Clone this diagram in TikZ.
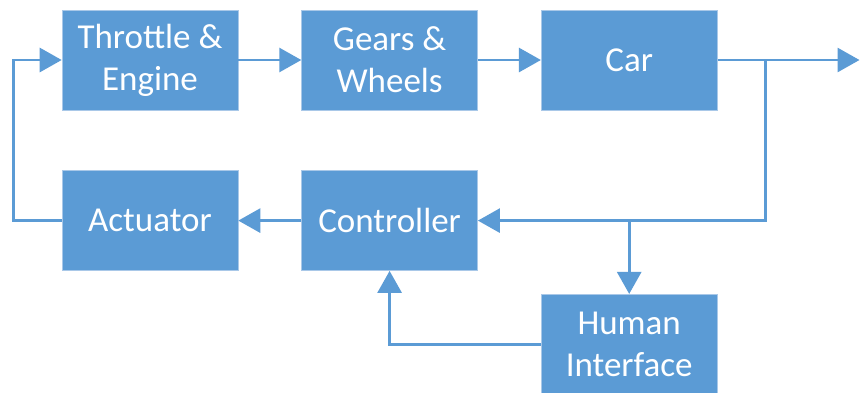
\documentclass[tikz,border=0pt]{standalone}
\usepackage{fontspec}
\setmainfont{Carlito}
\usepackage{tikz}
\usetikzlibrary{positioning,arrows.meta}

\definecolor{boxblue}{HTML}{5B9BD5}
\definecolor{boxedge}{HTML}{A9C8E8}

\tikzset{
	blk/.style={rectangle, fill=boxblue, draw=boxedge, line width=0.6pt, text=white,
		minimum width=176pt, minimum height=100pt, inner sep=0pt, align=center,
		font=\fontsize{35}{42}\selectfont},
	wire/.style={draw=boxblue, line width=2.8pt},
	arr/.style={wire, -{Triangle[length=22pt,width=24pt]}}
}

\begin{document}
\begin{tikzpicture}[x=1pt,y=1pt]
	\fill[white] (0,0) rectangle (860,-392);
	\useasboundingbox (0,0) rectangle (860,-392);

	\node[blk] (throttle) at (150,-60) {Throttle \&\\Engine};
	\node[blk, right=63pt of throttle] (gears) {Gears \&\\Wheels};
	\node[blk, right=63pt of gears] (car) {Car};
	\node[blk, below=60pt of throttle] (actuator) {Actuator};
	\node[blk, below=60pt of gears] (controller) {Controller};
	\coordinate (hitop) at (controller.south -| car);
	\node[blk, below=23pt of hitop] (human) {Human\\Interface};

	\coordinate[right=48pt of car] (split);
	\coordinate[right=142pt of car] (out);
	\coordinate (branch) at (human.north |- controller);

	% forward path
	\draw[arr] (throttle) -- (gears);
	\draw[arr] (gears) -- (car);
	\draw[arr] (car) -- (out);

	% feedback
	\draw[arr] (split) |- (controller);
	\draw[arr] (branch) -- (human);
	\draw[arr] (human.west) -| (controller.south);
	\draw[arr] (controller) -- (actuator);
	\draw[arr] (actuator.west) -- ++(-48pt,0) |- (throttle.west);
\end{tikzpicture}
\end{document}
